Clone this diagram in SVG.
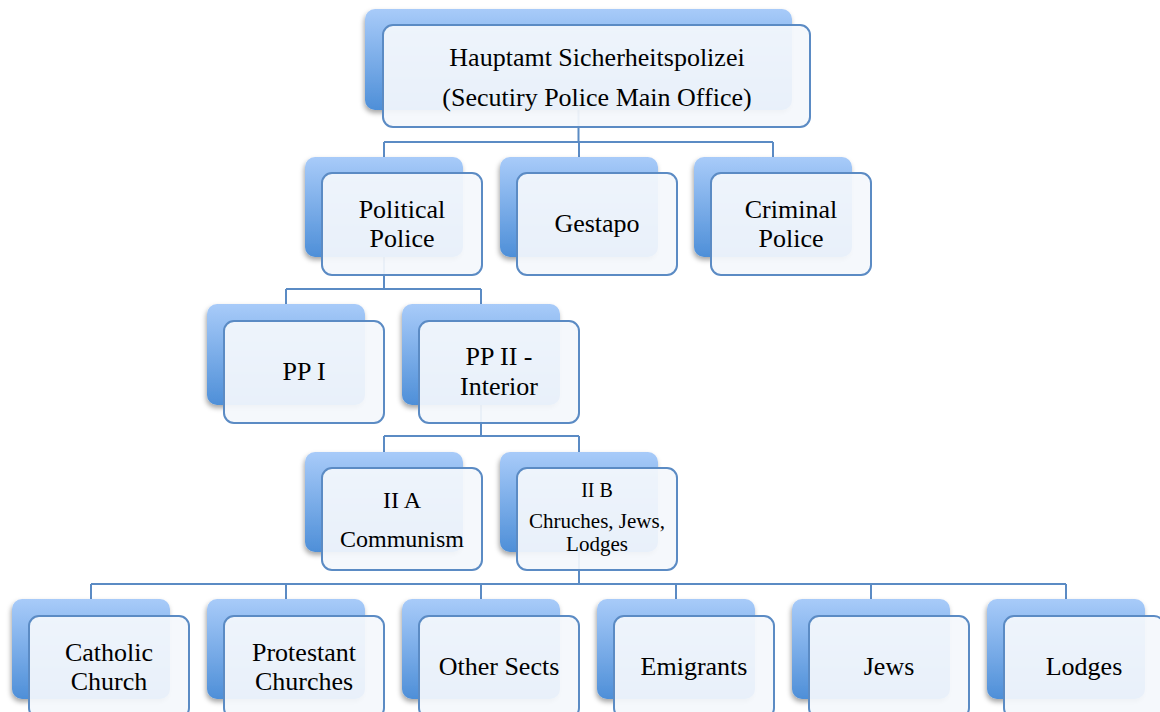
<svg xmlns="http://www.w3.org/2000/svg" width="1160" height="712" viewBox="0 0 1160 712">
<defs>
<linearGradient id="bg" x1="0" y1="0" x2="0" y2="1">
<stop offset="0" stop-color="#a8cbf9"/>
<stop offset="1" stop-color="#4e8fd8"/>
</linearGradient>
<filter id="sh" x="-20%" y="-20%" width="140%" height="150%">
<feDropShadow dx="-1" dy="3" stdDeviation="2.5" flood-color="#000" flood-opacity="0.35"/>
</filter>
</defs>
<style>
.back{fill:url(#bg);filter:url(#sh)}
.front{fill:#f4f7fc;fill-opacity:0.93;stroke:#5b8bc4;stroke-width:2}
.c{fill:none;stroke:#5b8bc4;stroke-width:2}
.t{font-family:'Liberation Serif','DejaVu Serif',serif;font-size:26px;fill:#000;text-anchor:middle}
.s24{font-size:24px}
.s21{font-size:21px}
.s20{font-size:20px}
</style>
<rect width="1160" height="712" fill="#fff"/>
<g id="connectors">
<path class="c" d="M578.5 110V142M384 142H773M384 142V157M579 142V157M773 142V157"/>
<path class="c" d="M384 257V289M286 289H481M286 289V304M481 289V304"/>
<path class="c" d="M481 405V436M384 436H579M384 436V452M579 436V452"/>
<path class="c" d="M579 552V584M91 584H1066M91 584V599M286 584V599M481 584V599M676 584V599M871 584V599M1066 584V599"/>
</g>
<g font-family="Liberation Serif, DejaVu Serif, serif">
<g id="n-hauptamt">
<rect class="back" x="365" y="9" width="427" height="101" rx="10"/>
<rect class="front" x="383" y="25" width="427" height="102" rx="10"/>
<text class="t" x="597" y="66">Hauptamt Sicherheitspolizei</text>
<text class="t" x="597" y="106">(Secutiry Police Main Office)</text>
</g>
<g id="n-political">
<rect class="back" x="305" y="157" width="158" height="100" rx="10"/>
<rect class="front" x="322" y="173" width="160" height="102" rx="10"/>
<text class="t" x="402" y="218">Political</text>
<text class="t" x="402" y="247">Police</text>
</g>
<g id="n-gestapo">
<rect class="back" x="500" y="157" width="158" height="100" rx="10"/>
<rect class="front" x="517" y="173" width="160" height="102" rx="10"/>
<text class="t" x="597" y="232">Gestapo</text>
</g>
<g id="n-criminal">
<rect class="back" x="694" y="157" width="158" height="100" rx="10"/>
<rect class="front" x="711" y="173" width="160" height="102" rx="10"/>
<text class="t" x="791" y="218">Criminal</text>
<text class="t" x="791" y="247">Police</text>
</g>
<g id="n-pp1">
<rect class="back" x="207" y="304" width="158" height="101" rx="10"/>
<rect class="front" x="224" y="321" width="160" height="102" rx="10"/>
<text class="t" x="304" y="380">PP I</text>
</g>
<g id="n-pp2">
<rect class="back" x="402" y="304" width="158" height="101" rx="10"/>
<rect class="front" x="419" y="321" width="160" height="102" rx="10"/>
<text class="t" x="499" y="365">PP II -</text>
<text class="t" x="499" y="395">Interior</text>
</g>
<g id="n-iia">
<rect class="back" x="305" y="452" width="158" height="100" rx="10"/>
<rect class="front" x="322" y="468" width="160" height="102" rx="10"/>
<text class="t s24" x="402" y="508">II A</text>
<text class="t s24" x="402" y="547">Communism</text>
</g>
<g id="n-iib">
<rect class="back" x="500" y="452" width="158" height="100" rx="10"/>
<rect class="front" x="517" y="468" width="160" height="102" rx="10"/>
<text class="t s20" x="597" y="497">II B</text>
<text class="t s21" x="597" y="528">Chruches, Jews,</text>
<text class="t s21" x="597" y="551">Lodges</text>
</g>
<g id="n-catholic">
<rect class="back" x="12" y="599" width="158" height="100" rx="10"/>
<rect class="front" x="29" y="616" width="160" height="102" rx="10"/>
<text class="t" x="109" y="661">Catholic</text>
<text class="t" x="109" y="690">Church</text>
</g>
<g id="n-protestant">
<rect class="back" x="207" y="599" width="158" height="100" rx="10"/>
<rect class="front" x="224" y="616" width="160" height="102" rx="10"/>
<text class="t" x="304" y="661">Protestant</text>
<text class="t" x="304" y="690">Churches</text>
</g>
<g id="n-sects">
<rect class="back" x="402" y="599" width="158" height="100" rx="10"/>
<rect class="front" x="419" y="616" width="160" height="102" rx="10"/>
<text class="t" x="499" y="675">Other Sects</text>
</g>
<g id="n-emigrants">
<rect class="back" x="597" y="599" width="158" height="100" rx="10"/>
<rect class="front" x="614" y="616" width="160" height="102" rx="10"/>
<text class="t" x="694" y="675">Emigrants</text>
</g>
<g id="n-jews">
<rect class="back" x="792" y="599" width="158" height="100" rx="10"/>
<rect class="front" x="809" y="616" width="160" height="102" rx="10"/>
<text class="t" x="889" y="675">Jews</text>
</g>
<g id="n-lodges">
<rect class="back" x="987" y="599" width="158" height="100" rx="10"/>
<rect class="front" x="1004" y="616" width="160" height="102" rx="10"/>
<text class="t" x="1084" y="675">Lodges</text>
</g>
</g>
</svg>
